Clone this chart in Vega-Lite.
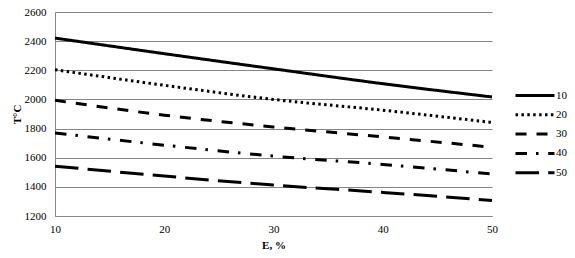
{
  "$schema": "https://vega.github.io/schema/vega-lite/v6.json",
  "width": 437,
  "height": 204,
  "autosize": "none",
  "padding": {"left": 55, "top": 12, "right": 83, "bottom": 42},
  "background": "white",
  "config": {
    "view": {"stroke": null},
    "font": "Liberation Serif",
    "axis": {
      "labelFont": "Liberation Serif",
      "labelFontSize": 11,
      "labelColor": "black",
      "titleFont": "Liberation Serif",
      "titleFontSize": 11,
      "titleFontWeight": "bold",
      "titleColor": "black",
      "domainColor": "#868686",
      "gridColor": "#868686",
      "ticks": false
    },
    "legend": {
      "labelFont": "Liberation Serif",
      "labelFontSize": 11,
      "labelColor": "black"
    }
  },
  "data": {
    "values": [
      {"E": 10, "T": 2421, "s": "10"},
      {"E": 20, "T": 2314, "s": "10"},
      {"E": 30, "T": 2210, "s": "10"},
      {"E": 40, "T": 2108, "s": "10"},
      {"E": 50, "T": 2017, "s": "10"},
      {"E": 10, "T": 2204, "s": "20"},
      {"E": 20, "T": 2097, "s": "20"},
      {"E": 30, "T": 2000, "s": "20"},
      {"E": 40, "T": 1926, "s": "20"},
      {"E": 50, "T": 1842, "s": "20"},
      {"E": 10, "T": 1994, "s": "30"},
      {"E": 20, "T": 1892, "s": "30"},
      {"E": 30, "T": 1811, "s": "30"},
      {"E": 40, "T": 1743, "s": "30"},
      {"E": 50, "T": 1672, "s": "30"},
      {"E": 10, "T": 1770, "s": "40"},
      {"E": 20, "T": 1686, "s": "40"},
      {"E": 30, "T": 1611, "s": "40"},
      {"E": 40, "T": 1554, "s": "40"},
      {"E": 50, "T": 1488, "s": "40"},
      {"E": 10, "T": 1542, "s": "50"},
      {"E": 20, "T": 1474, "s": "50"},
      {"E": 30, "T": 1412, "s": "50"},
      {"E": 40, "T": 1362, "s": "50"},
      {"E": 50, "T": 1307, "s": "50"}
    ]
  },
  "mark": {"type": "line", "interpolate": "monotone", "strokeWidth": 3, "color": "black", "strokeCap": "butt"},
  "encoding": {
    "x": {
      "field": "E", "type": "quantitative",
      "scale": {"domain": [10, 50], "nice": false},
      "axis": {"values": [10, 20, 30, 40, 50], "format": "d", "grid": false, "title": "E, %", "labelPadding": 7, "titlePadding": 5, "labelFlush": false}
    },
    "y": {
      "field": "T", "type": "quantitative",
      "scale": {"domain": [1200, 2600], "nice": false, "zero": false},
      "axis": {"values": [1200, 1400, 1600, 1800, 2000, 2200, 2400, 2600], "format": "d", "title": "T°C", "labelPadding": 9, "titlePadding": 2}
    },
    "strokeDash": {
      "field": "s", "type": "nominal",
      "scale": {
        "domain": ["10", "20", "30", "40", "50"],
        "range": [[1, 0], [2.5, 3.4], [11, 10], [11.5, 9, 2.5, 9.7], [23.5, 9.2]]
      },
      "legend": {
        "title": null,
        "orient": "none",
        "legendX": 468.5,
        "legendY": 72,
        "symbolType": "M-2,0H2",
        "symbolSize": 380,
        "symbolStrokeWidth": 3,
        "symbolStrokeColor": "black",
        "symbolFillColor": "transparent",
        "labelOffset": 9.5,
        "rowPadding": 1.3,
        "padding": 0
      }
    }
  }
}
